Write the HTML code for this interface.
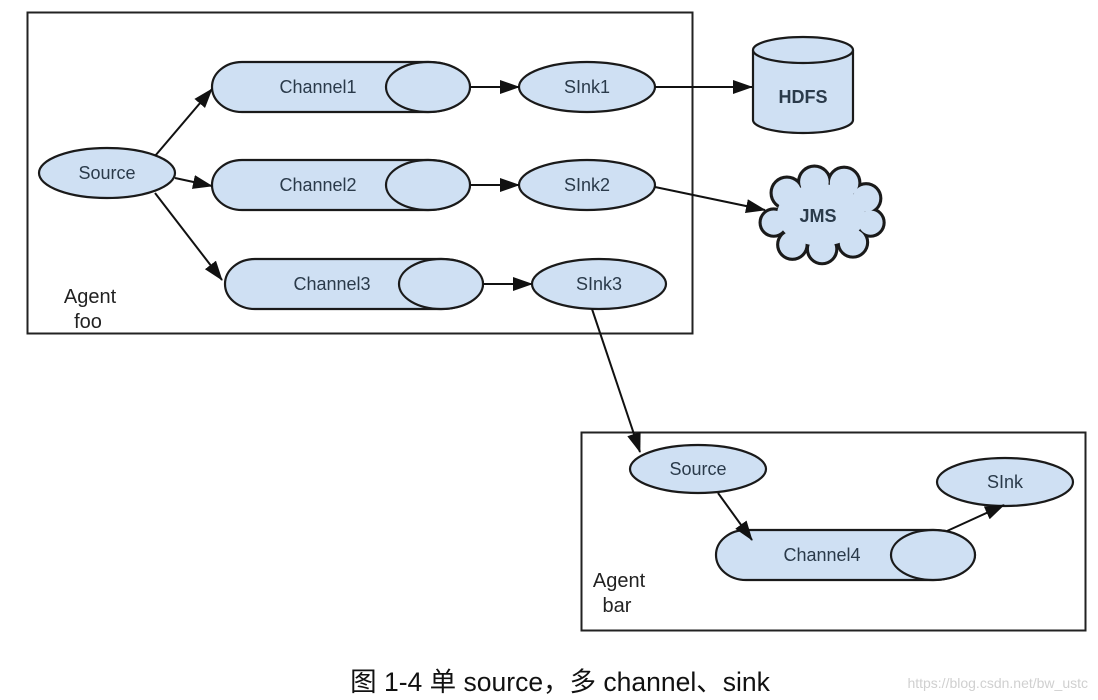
<!DOCTYPE html>
<html><head><meta charset="utf-8"><style>
html,body{margin:0;padding:0;background:#fff;width:1098px;height:700px;overflow:hidden}
svg text{font-family:"Liberation Sans",Arial,sans-serif}
</style></head><body>
<svg width="1098" height="700" viewBox="0 0 1098 700" xmlns="http://www.w3.org/2000/svg">
<defs>
<marker id="b" markerWidth="20" markerHeight="14" refX="19" refY="7" orient="auto" markerUnits="userSpaceOnUse">
<path d="M0,0 L20,7 L0,14 z" fill="#111"/></marker>
</defs>
<g stroke="#222" stroke-width="2" fill="none">
<rect x="27.5" y="12.5" width="665" height="321"/>
<rect x="581.5" y="432.5" width="504" height="198"/>
</g>
<g fill="#cfe0f3" stroke="#1a1a1a" stroke-width="2.2">
<path d="M242,62 H428 A42,25 0 0 1 428,112 H242 A30,25 0 0 1 242,62 Z"/>
<ellipse cx="428" cy="87" rx="42" ry="25"/>
<path d="M242,160 H428 A42,25 0 0 1 428,210 H242 A30,25 0 0 1 242,160 Z"/>
<ellipse cx="428" cy="185" rx="42" ry="25"/>
<path d="M255,259 H441 A42,25 0 0 1 441,309 H255 A30,25 0 0 1 255,259 Z"/>
<ellipse cx="441" cy="284" rx="42" ry="25"/>
<path d="M746,530 H933 A42,25 0 0 1 933,580 H746 A30,25 0 0 1 746,530 Z"/>
<ellipse cx="933" cy="555" rx="42" ry="25"/>
<ellipse cx="107" cy="173" rx="68" ry="25"/>
<ellipse cx="587" cy="87" rx="68" ry="25"/>
<ellipse cx="587" cy="185" rx="68" ry="25"/>
<ellipse cx="599" cy="284" rx="67" ry="25"/>
<ellipse cx="698" cy="469" rx="68" ry="24"/>
<ellipse cx="1005" cy="482" rx="68" ry="24"/>
<path d="M753,50 V120 A50,13 0 0 0 853,120 V50"/>
<ellipse cx="803" cy="50" rx="50" ry="13"/>
</g>
<g transform="translate(821,216) scale(1.1) translate(-821,-216)">
<g fill="#cfe0f3" stroke="#1a1a1a" stroke-width="3.6">
<circle cx="790" cy="195" r="14"/><circle cx="815" cy="185" r="14"/><circle cx="842" cy="186" r="14"/>
<circle cx="862" cy="200" r="13"/><circle cx="866" cy="222" r="12"/><circle cx="850" cy="240" r="13"/>
<circle cx="822" cy="246" r="13"/><circle cx="795" cy="242" r="13"/><circle cx="778" cy="222" r="12"/>
</g>
<g fill="#cfe0f3">
<circle cx="790" cy="195" r="13"/><circle cx="815" cy="185" r="13"/><circle cx="842" cy="186" r="13"/>
<circle cx="862" cy="200" r="12"/><circle cx="866" cy="222" r="11"/><circle cx="850" cy="240" r="12"/>
<circle cx="822" cy="246" r="12"/><circle cx="795" cy="242" r="12"/><circle cx="778" cy="222" r="11"/>
<ellipse cx="821" cy="215" rx="40" ry="28"/>
</g>
</g>
<g stroke="#111" stroke-width="2" fill="none" marker-end="url(#b)">
<line x1="155" y1="156" x2="212" y2="89"/>
<line x1="175" y1="178" x2="212" y2="186"/>
<line x1="155" y1="193" x2="222" y2="280"/>
<line x1="470" y1="87" x2="519" y2="87"/>
<line x1="470" y1="185" x2="519" y2="185"/>
<line x1="483" y1="284" x2="532" y2="284"/>
<line x1="655" y1="87" x2="752" y2="87"/>
<line x1="655" y1="187" x2="765" y2="210"/>
<line x1="592" y1="309" x2="640" y2="452"/>
<line x1="718" y1="493" x2="752" y2="540"/>
<line x1="947" y1="531" x2="1004" y2="505"/>
</g>
<g font-size="18" fill="#2a3a4a" text-anchor="middle">
<text x="107" y="179">Source</text>
<text x="318" y="93">Channel1</text>
<text x="318" y="191">Channel2</text>
<text x="332" y="290">Channel3</text>
<text x="822" y="561">Channel4</text>
<text x="587" y="93">SInk1</text>
<text x="587" y="191">SInk2</text>
<text x="599" y="290">SInk3</text>
<text x="698" y="475">Source</text>
<text x="1005" y="488">SInk</text>
<text x="803" y="103" font-weight="bold" font-size="18">HDFS</text>
<text x="818" y="222" font-weight="bold" font-size="18">JMS</text>
</g>
<g font-size="20" fill="#222" text-anchor="middle">
<text x="90" y="303">Agent</text><text x="88" y="328">foo</text>
<text x="619" y="587">Agent</text><text x="617" y="612">bar</text>
</g>
<text x="560" y="691" text-anchor="middle" font-size="26.5" fill="#111" style='font-family:"Liberation Sans","Noto Sans CJK SC",sans-serif'>图 1-4 单 source，多 channel、sink</text>
<text x="1088" y="688" text-anchor="end" font-size="14" fill="#d0d0d0">https://blog.csdn.net/bw_ustc</text>
</svg>
</body></html>
